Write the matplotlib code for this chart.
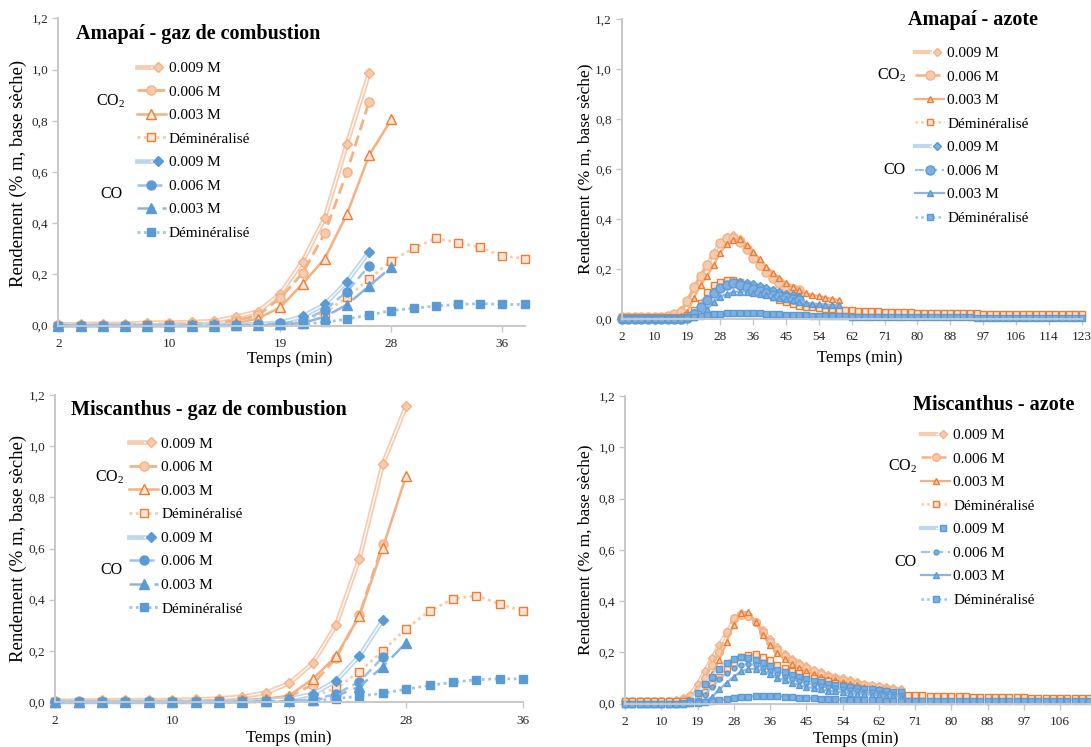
import matplotlib
matplotlib.use("Agg")
import matplotlib.pyplot as plt
from matplotlib.legend_handler import HandlerTuple
from matplotlib.ticker import FuncFormatter

plt.rcParams["font.family"] = ["Liberation Serif", "DejaVu Serif"]
plt.rcParams["mathtext.fontset"] = "custom"
plt.rcParams["mathtext.rm"] = "Liberation Serif"
plt.rcParams["mathtext.it"] = "Liberation Serif:italic"

W, H = 1091, 747

# ---------------- data ----------------
series_labels = ["0.009 M", "0.006 M", "0.003 M", "Déminéralisé",
                 "0.009 M", "0.006 M", "0.003 M", "Déminéralisé"]
left_ticklabels = ["2", "10", "19", "28", "36"]
right_ticklabels = ["2", "10", "19", "28", "36", "45", "54", "62", "71",
                    "80", "88", "97", "106", "114", "123"]
yticks = [0.0, 0.2, 0.4, 0.6, 0.8, 1.0, 1.2]

# Amapaí - gaz de combustion
tl_co2_009 = [0.005, 0.006, 0.008, 0.006, 0.012, 0.012, 0.014, 0.018, 0.035, 0.055,
              0.125, 0.25, 0.42, 0.71, 0.985]
tl_co2_006 = [0.002, 0.003, 0.004, 0.004, 0.006, 0.007, 0.008, 0.01, 0.02, 0.04,
              0.108, 0.205, 0.36, 0.6, 0.875]
tl_co2_003 = [0.001, 0.001, 0.002, 0.002, 0.003, 0.003, 0.004, 0.005, 0.01, 0.028,
              0.072, 0.163, 0.262, 0.435, 0.665, 0.805]
tl_co2_dem = [0.0, 0.0, 0.0, 0.0, 0.001, 0.001, 0.002, 0.002, 0.003, 0.004,
              0.008, 0.02, 0.05, 0.111, 0.182, 0.254, 0.302, 0.341, 0.324, 0.306,
              0.272, 0.262]
tl_co_009 = [0.0, 0.0, 0.0, 0.0, 0.0, 0.0, 0.001, 0.002, 0.003, 0.006,
             0.012, 0.036, 0.083, 0.172, 0.289]
tl_co_006 = [0.0, 0.0, 0.0, 0.0, 0.0, 0.0, 0.0, 0.001, 0.002, 0.004,
             0.009, 0.018, 0.061, 0.133, 0.234]
tl_co_003 = [0.0, 0.0, 0.0, 0.0, 0.0, 0.0, 0.0, 0.0, 0.001, 0.002,
             0.005, 0.01, 0.035, 0.082, 0.155, 0.228]
tl_co_dem = [0.0, 0.0, 0.0, 0.0, 0.0, 0.0, 0.0, 0.0, 0.0, 0.001,
             0.003, 0.007, 0.013, 0.026, 0.042, 0.059, 0.068, 0.077, 0.083, 0.086,
             0.083, 0.083]

# Miscanthus - gaz de combustion
bl_co2_009 = [0.005, 0.005, 0.007, 0.007, 0.007, 0.008, 0.01, 0.013, 0.021, 0.036,
              0.073, 0.151, 0.3, 0.56, 0.93, 1.157]
bl_co2_006 = [0.002, 0.002, 0.003, 0.003, 0.003, 0.004, 0.005, 0.006, 0.008, 0.012,
              0.02, 0.068, 0.172, 0.34, 0.618]
bl_co2_003 = [0.001, 0.001, 0.002, 0.002, 0.002, 0.003, 0.004, 0.005, 0.008, 0.012,
              0.025, 0.09, 0.178, 0.337, 0.603, 0.885]
bl_co2_dem = [0.0, 0.0, 0.0, 0.0, 0.0, 0.001, 0.001, 0.002, 0.003, 0.005,
              0.01, 0.022, 0.053, 0.119, 0.2, 0.287, 0.356, 0.403, 0.416, 0.383,
              0.355]
bl_co_009 = [0.0, 0.0, 0.0, 0.0, 0.0, 0.0, 0.0, 0.001, 0.002, 0.005,
             0.012, 0.031, 0.082, 0.18, 0.32]
bl_co_006 = [0.0, 0.0, 0.0, 0.0, 0.0, 0.0, 0.0, 0.0, 0.001, 0.002,
             0.004, 0.01, 0.031, 0.079, 0.175]
bl_co_003 = [0.0, 0.0, 0.0, 0.0, 0.0, 0.0, 0.0, 0.0, 0.001, 0.002,
             0.003, 0.006, 0.023, 0.06, 0.138, 0.232]
bl_co_dem = [0.0, 0.0, 0.0, 0.0, 0.0, 0.0, 0.0, 0.0, 0.0, 0.001,
             0.002, 0.004, 0.013, 0.023, 0.034, 0.05, 0.065, 0.077, 0.087, 0.091,
             0.09]

# Amapaí - azote
tr_co2_009 = [0.01, 0.01, 0.01, 0.01, 0.01, 0.01, 0.01, 0.012, 0.02, 0.035,
              0.07, 0.125, 0.17, 0.215, 0.265, 0.305, 0.33, 0.335, 0.32, 0.29,
              0.255, 0.222, 0.195, 0.17, 0.155, 0.137, 0.125, 0.117]
tr_co2_006 = [0.01, 0.01, 0.01, 0.01, 0.01, 0.01, 0.01, 0.012, 0.02, 0.03,
              0.072, 0.128, 0.173, 0.218, 0.262, 0.305, 0.326, 0.326, 0.308, 0.282,
              0.245, 0.216, 0.189, 0.163, 0.145, 0.13, 0.12, 0.118]
tr_co2_003 = [0.005, 0.005, 0.005, 0.005, 0.005, 0.005, 0.005, 0.006, 0.008, 0.012,
              0.03, 0.085, 0.136, 0.173, 0.215, 0.266, 0.299, 0.318, 0.32, 0.298,
              0.27, 0.24, 0.21, 0.185, 0.165, 0.145, 0.13, 0.115, 0.103, 0.097,
              0.092, 0.086, 0.081, 0.076]
tr_co2_dem = [0.008, 0.008, 0.008, 0.008, 0.008, 0.008, 0.008, 0.008, 0.009, 0.01,
              0.015, 0.035, 0.065, 0.11, 0.137, 0.15, 0.155, 0.155, 0.15, 0.14,
              0.13, 0.115, 0.1, 0.088, 0.077, 0.068, 0.06, 0.054, 0.05, 0.047,
              0.044, 0.042, 0.04, 0.038, 0.036, 0.035, 0.034, 0.033, 0.032, 0.031,
              0.03, 0.029, 0.028, 0.028, 0.027, 0.026, 0.026, 0.025, 0.024, 0.024,
              0.023, 0.023, 0.023, 0.023, 0.023, 0.022, 0.022, 0.021, 0.021, 0.021,
              0.02, 0.02, 0.019, 0.019, 0.019, 0.019, 0.019, 0.019, 0.019, 0.019,
              0.019]
tr_co_009 = [0.0, 0.0, 0.0, 0.0, 0.0, 0.0, 0.0, 0.0, 0.001, 0.003,
             0.01, 0.025, 0.05, 0.08, 0.105, 0.125, 0.138, 0.146, 0.148, 0.145,
             0.14, 0.132, 0.125, 0.118, 0.11, 0.102, 0.095, 0.09]
tr_co_006 = [0.0, 0.0, 0.0, 0.0, 0.0, 0.0, 0.0, 0.0, 0.001, 0.002,
             0.006, 0.02, 0.047, 0.077, 0.106, 0.123, 0.136, 0.143, 0.136, 0.128,
             0.12, 0.112, 0.105, 0.098, 0.092, 0.087, 0.082, 0.078]
tr_co_003 = [0.0, 0.0, 0.0, 0.0, 0.0, 0.0, 0.0, 0.0, 0.0, 0.001,
             0.003, 0.008, 0.018, 0.04, 0.067, 0.09, 0.1, 0.108, 0.11, 0.11,
             0.106, 0.1, 0.095, 0.09, 0.085, 0.08, 0.075, 0.07, 0.066, 0.062,
             0.06, 0.058, 0.056, 0.055]
tr_co_dem = [0.0, 0.0, 0.0, 0.0, 0.0, 0.0, 0.0, 0.0, 0.0, 0.0,
             0.004, 0.008, 0.013, 0.016, 0.019, 0.021, 0.023, 0.024, 0.025, 0.025,
             0.024, 0.023, 0.022, 0.021, 0.02, 0.018, 0.017, 0.016, 0.015, 0.014,
             0.013, 0.012, 0.012, 0.011, 0.011, 0.01, 0.01, 0.01, 0.009, 0.009,
             0.009, 0.009, 0.008, 0.008, 0.008, 0.008, 0.008, 0.007, 0.007, 0.007,
             0.007, 0.007, 0.007, 0.007, 0.006, 0.006, 0.006, 0.006, 0.006, 0.006,
             0.006, 0.006, 0.006, 0.006, 0.006, 0.006, 0.006, 0.006, 0.006, 0.006,
             0.006]

# Miscanthus - azote
br_co2_009 = [0.01, 0.01, 0.01, 0.01, 0.01, 0.01, 0.01, 0.012, 0.02, 0.035,
              0.075, 0.125, 0.178, 0.228, 0.275, 0.325, 0.352, 0.346, 0.32, 0.285,
              0.25, 0.22, 0.195, 0.175, 0.16, 0.145, 0.132, 0.122, 0.112, 0.105,
              0.1, 0.09, 0.082, 0.077, 0.072, 0.068, 0.064, 0.06, 0.055]
br_co2_006 = [0.008, 0.008, 0.008, 0.008, 0.008, 0.008, 0.008, 0.01, 0.015, 0.03,
              0.051, 0.099, 0.15, 0.2, 0.28, 0.333, 0.346, 0.34, 0.32, 0.28,
              0.24, 0.21, 0.185, 0.165, 0.15, 0.137, 0.125, 0.115, 0.105, 0.097,
              0.09, 0.083, 0.077, 0.072, 0.067, 0.063, 0.058, 0.053, 0.048]
br_co2_003 = [0.006, 0.006, 0.006, 0.006, 0.006, 0.006, 0.006, 0.007, 0.01, 0.015,
              0.03, 0.067, 0.115, 0.169, 0.24, 0.308, 0.353, 0.359, 0.317, 0.267,
              0.227, 0.199, 0.175, 0.155, 0.14, 0.125, 0.115, 0.105, 0.097, 0.09,
              0.083, 0.077, 0.071, 0.066, 0.061, 0.056, 0.051, 0.046, 0.041]
br_co2_dem = [0.008, 0.008, 0.008, 0.008, 0.008, 0.008, 0.008, 0.008, 0.01, 0.012,
              0.022, 0.045, 0.075, 0.105, 0.135, 0.16, 0.18, 0.19, 0.192, 0.182,
              0.168, 0.152, 0.14, 0.128, 0.118, 0.108, 0.1, 0.093, 0.087, 0.08,
              0.072, 0.066, 0.06, 0.055, 0.05, 0.046, 0.042, 0.039, 0.036, 0.034,
              0.033, 0.032, 0.031, 0.031, 0.03, 0.029, 0.029, 0.028, 0.027, 0.027,
              0.026, 0.026, 0.025, 0.025, 0.024, 0.024, 0.023, 0.023, 0.023, 0.022,
              0.022, 0.022, 0.021, 0.021, 0.021, 0.021]
br_co_009 = [0.0, 0.0, 0.0, 0.0, 0.0, 0.0, 0.0, 0.0, 0.002, 0.01,
             0.04, 0.075, 0.105, 0.135, 0.158, 0.172, 0.18, 0.178, 0.17, 0.158,
             0.145, 0.132, 0.122, 0.112, 0.103, 0.095, 0.089, 0.083, 0.078, 0.074,
             0.07, 0.066, 0.062, 0.058, 0.055, 0.052, 0.049, 0.046, 0.043]
br_co_006 = [0.0, 0.0, 0.0, 0.0, 0.0, 0.0, 0.0, 0.0, 0.001, 0.004,
             0.012, 0.035, 0.065, 0.095, 0.12, 0.14, 0.152, 0.155, 0.15, 0.14,
             0.128, 0.115, 0.105, 0.095, 0.087, 0.08, 0.074, 0.068, 0.063, 0.059,
             0.055, 0.052, 0.049, 0.046, 0.043, 0.04, 0.038, 0.036, 0.034]
br_co_003 = [0.0, 0.0, 0.0, 0.0, 0.0, 0.0, 0.0, 0.0, 0.0, 0.001,
             0.004, 0.01, 0.025, 0.055, 0.08, 0.105, 0.125, 0.135, 0.135, 0.128,
             0.115, 0.1, 0.09, 0.08, 0.072, 0.065, 0.06, 0.055, 0.05, 0.047,
             0.044, 0.041, 0.038, 0.036, 0.034, 0.032, 0.03, 0.028, 0.026]
br_co_dem = [0.0, 0.0, 0.0, 0.0, 0.0, 0.0, 0.0, 0.0, 0.0, 0.002,
             0.003, 0.005, 0.01, 0.013, 0.016, 0.02, 0.024, 0.027, 0.029, 0.03,
             0.03, 0.029, 0.027, 0.025, 0.023, 0.021, 0.02, 0.018, 0.017, 0.016,
             0.015, 0.014, 0.013, 0.013, 0.012, 0.012, 0.011, 0.011, 0.01, 0.01,
             0.01, 0.01, 0.009, 0.009, 0.009, 0.009, 0.009, 0.009, 0.008, 0.008,
             0.008, 0.008, 0.008, 0.008, 0.008, 0.008, 0.008, 0.008, 0.008, 0.008,
             0.008, 0.008, 0.008, 0.008, 0.008, 0.008]

# ---------------- styles ----------------
OR = "#ED7D31"
OR_M = "#F4B183"
OR_L = "#F8CBAD"
OR_LL = "#FBE5D6"
BL = "#5B9BD5"
BL_M = "#9DC3E6"
BL_L = "#BDD7EE"
AXIS_GREY = "#C8C8C8"
DOT = (0, (1, 1.3))


def left_styles():
    return [
        dict(double=OR_L, dlw=3.4, marker="D", ms=5.5, mfc=OR_L, mec=OR_M),
        dict(color=OR_M, ls=(0, (4, 2)), lw=2.0, marker="o", ms=6.5, mfc=OR_L, mec=OR_M),
        dict(color=OR_M, ls="-", lw=1.8, marker="^", ms=6.5, mfc=OR_LL, mec=OR),
        dict(color=OR_L, ls=DOT, lw=2.0, marker="s", ms=6, mfc=OR_LL, mec=OR),
        dict(double=BL_L, dlw=3.4, marker="D", ms=5.5, mfc=BL, mec=BL),
        dict(color=BL_M, ls=(0, (4, 2)), lw=1.8, marker="o", ms=6.5, mfc=BL, mec=BL),
        dict(color="#8FB4E3", ls=(0, (7, 3)), lw=1.8, marker="^", ms=6.5, mfc=BL, mec=BL),
        dict(color=BL_M, ls=DOT, lw=2.0, marker="s", ms=6, mfc=BL, mec=BL),
    ]


def right_styles(bottom):
    return [
        dict(double=OR_L, dlw=3.0, marker="D", ms=4, mfc=OR_L, mec=OR_M),
        dict(color=OR_M, ls=(0, (4, 2)), lw=1.8, marker="o", ms=5.5 if bottom else 6.5,
             mfc=OR_L, mec=OR_M),
        dict(color=OR_M, ls="-", lw=1.6, marker="^", ms=4.5, mfc=OR_L, mec=OR),
        dict(color=OR_L, ls=DOT, lw=1.8, marker="s", ms=4.5, mfc=OR_LL, mec=OR),
        dict(double=BL_L, dlw=3.0, marker="s" if bottom else "D", ms=4.5 if bottom else 4,
             mfc="#7FAEE0", mec=BL),
        dict(color=BL_M, ls=(0, (4, 2)), lw=1.6, marker="o", ms=3.5 if bottom else 6.5,
             mfc="#7FAEE0", mec=BL),
        dict(color="#8FB4E3", ls="-", lw=1.6, marker="^", ms=4.5, mfc="#7FAEE0", mec=BL),
        dict(color=BL_M, ls=DOT, lw=1.8, marker="s", ms=4, mfc="#7FAEE0", mec=BL),
    ]


def fx(px):
    return px / W


def fy(py):
    return 1 - py / H


def draw_series(ax, data, styles):
    handles = []
    for y, s in zip(data, styles):
        x = range(len(y))
        if "double" in s:
            h1, = ax.plot(x, y, color=s["double"], lw=s["dlw"], clip_on=False)
            h2, = ax.plot(x, y, color="white", lw=0.9, marker=s["marker"],
                          ms=s["ms"], mfc=s["mfc"], mec=s["mec"], mew=1.0,
                          clip_on=False)
            handles.append((h1, h2))
        else:
            h, = ax.plot(x, y, color=s["color"], ls=s["ls"], lw=s["lw"],
                         marker=s["marker"], ms=s["ms"], mfc=s["mfc"],
                         mec=s["mec"], mew=1.0, clip_on=False)
            handles.append(h)
    return handles


def style_axes(ax, xmax, ticklabels, tick_step=5):
    ax.set_xlim(0, xmax)
    ax.set_ylim(0, 1.2)
    ax.set_xticks([i * tick_step for i in range(len(ticklabels))])
    ax.set_xticklabels(ticklabels)
    ax.set_yticks(yticks)
    ax.yaxis.set_major_formatter(FuncFormatter(lambda v, p: f"{v:.1f}".replace(".", ",")))
    for side in ("top", "right"):
        ax.spines[side].set_visible(False)
    for side in ("left", "bottom"):
        ax.spines[side].set_color(AXIS_GREY)
        ax.spines[side].set_linewidth(1.4)
    ax.tick_params(axis="both", direction="out", length=4, width=1.0,
                   color=AXIS_GREY, labelsize=9.5, labelcolor="#262626")
    ax.tick_params(axis="x", pad=5)
    ax.tick_params(axis="y", pad=3)
    ax.set_facecolor("none")


fig = plt.figure(figsize=(W / 100, H / 100), dpi=100)

panels = [
    # px positions: rect = (x of first category, x of xmax, y of 0, y of 1.2)
    dict(data=[tl_co2_009, tl_co2_006, tl_co2_003, tl_co2_dem,
               tl_co_009, tl_co_006, tl_co_003, tl_co_dem],
         rect=(58.3, 524.5, 325.7, 18.3), xmax=21, ticks=left_ticklabels,
         styles=left_styles(),
         title="Amapaí - gaz de combustion", title_pos=(76, 34),
         leg=(136.5, 61.5), co2=(110.5, 101.5), co=(111.5, 194.5),
         ylab=(18, 173, 13.5), xlab=(290, 359)),
    dict(data=[tr_co2_009, tr_co2_006, tr_co2_003, tr_co2_dem,
               tr_co_009, tr_co_006, tr_co_003, tr_co_dem],
         rect=(621.7, 1081.7, 319, 19), xmax=70, ticks=right_ticklabels,
         styles=right_styles(False),
         title="Amapaí - azote", title_pos=(908, 20),
         leg=(915, 46.5), co2=(892, 75.5), co=(894, 169.5),
         ylab=(585, 169, 12.5), xlab=(860, 358)),
    dict(data=[bl_co2_009, bl_co2_006, bl_co2_003, bl_co2_dem,
               bl_co_009, bl_co_006, bl_co_003, bl_co_dem],
         rect=(55.2, 523.2, 702, 395), xmax=20, ticks=left_ticklabels,
         styles=left_styles(),
         title="Miscanthus - gaz de combustion", title_pos=(71, 410),
         leg=(129, 437), co2=(110, 477.5), co=(111, 570),
         ylab=(18, 548, 13.5), xlab=(289, 738)),
    dict(data=[br_co2_009, br_co2_006, br_co2_003, br_co2_dem,
               br_co_009, br_co_006, br_co_003, br_co_dem],
         rect=(625, 1091.2, 703.5, 396), xmax=64.3, ticks=right_ticklabels[:13],
         styles=right_styles(True),
         title="Miscanthus - azote", title_pos=(913, 405),
         leg=(921, 428.5), co2=(903, 466.5), co=(905, 562),
         ylab=(585, 550, 12.5), xlab=(856, 739)),
]

for p in panels:
    x0, x1, y0, y1 = p["rect"]
    ax = fig.add_axes([fx(x0), fy(y0), (x1 - x0) / W, (y0 - y1) / H])
    handles = draw_series(ax, p["data"], p["styles"])
    style_axes(ax, p["xmax"], p["ticks"])

    ax.legend(handles, series_labels, loc="upper left",
              bbox_to_anchor=(fx(p["leg"][0]), fy(p["leg"][1])),
              bbox_transform=fig.transFigure, frameon=False, fontsize=11,
              handlelength=1.9, handletextpad=0.2, labelspacing=0.645,
              borderpad=0, borderaxespad=0,
              handler_map={tuple: HandlerTuple(ndivide=None, pad=0)})

    fig.text(fx(p["title_pos"][0]), fy(p["title_pos"][1]), p["title"],
             fontsize=14.5, fontweight="bold", ha="left", va="center")
    fig.text(fx(p["co2"][0]), fy(p["co2"][1]), "CO$_2$", fontsize=11.5,
             ha="center", va="center")
    fig.text(fx(p["co"][0]), fy(p["co"][1]), "CO", fontsize=11.5,
             ha="center", va="center")
    lx, ly, lsize = p["ylab"]
    fig.text(fx(lx), fy(ly), "Rendement (% m, base sèche)", fontsize=lsize,
             rotation=90, ha="center", va="center")
    fig.text(fx(p["xlab"][0]), fy(p["xlab"][1]), "Temps (min)", fontsize=12,
             ha="center", va="center")

fig.savefig("out.png", dpi=100)
